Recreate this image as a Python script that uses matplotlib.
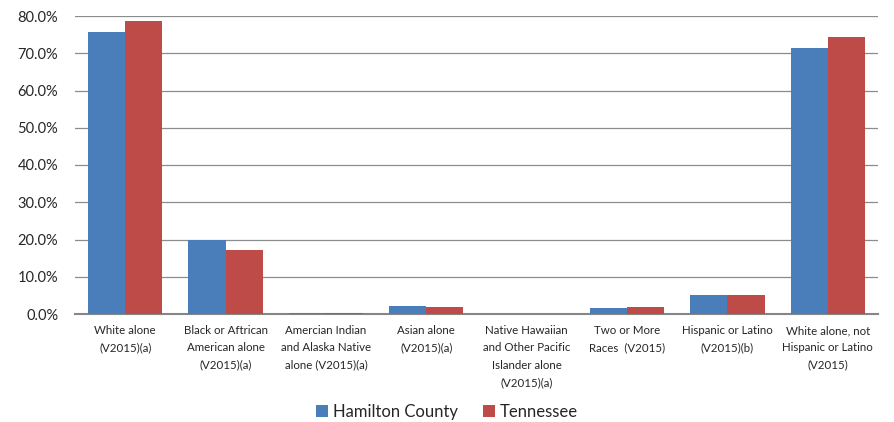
import matplotlib
matplotlib.use("Agg")
import matplotlib.pyplot as plt
import numpy as np
from matplotlib.ticker import FuncFormatter

categories = [
    "White alone\n(V2015)(a)",
    "Black or Aftrican\nAmerican alone\n(V2015)(a)",
    "Amercian Indian\nand Alaska Native\nalone (V2015)(a)",
    "Asian alone\n(V2015)(a)",
    "Native Hawaiian\nand Other Pacific\nIslander alone\n(V2015)(a)",
    "Two or More\nRaces  (V2015)",
    "Hispanic or Latino\n(V2015)(b)",
    "White alone, not\nHispanic or Latino\n(V2015)",
]
hamilton = [75.6, 19.9, 0.4, 2.2, 0.1, 1.6, 5.2, 71.4]
tennessee = [78.7, 17.2, 0.3, 1.8, 0.1, 1.8, 5.2, 74.4]
series_names = ["Hamilton County", "Tennessee"]
yticks = [0, 10, 20, 30, 40, 50, 60, 70, 80]

plt.rcParams['font.family'] = ['Lato', 'DejaVu Sans']

fig = plt.figure(figsize=(8.94, 4.22), dpi=100)
ax = fig.add_axes([75/894, 1-314/422, (878-75)/894, (314-16)/422])

x = np.arange(len(categories))
w = 0.37
ax.bar(x - w/2, hamilton, w, color="#4A7EBB", label=series_names[0], zorder=3)
ax.bar(x + w/2, tennessee, w, color="#BE4B48", label=series_names[1], zorder=3)

ax.set_xlim(-0.5, len(categories) - 0.5)
ax.set_ylim(0, 80)
ax.set_yticks(yticks)
ax.yaxis.set_major_formatter(FuncFormatter(lambda v, p: f"{v:.1f}%"))
ax.grid(axis="y", color="#8C8C8C", linewidth=0.9, zorder=0)
for s in ["left", "right", "top"]:
    ax.spines[s].set_visible(False)
ax.spines["bottom"].set_color("#868686")
ax.spines["bottom"].set_linewidth(1.5)
ax.spines["bottom"].set_zorder(2.5)
ax.tick_params(axis="y", length=0, labelsize=10.5, pad=12, labelcolor="#262626")
ax.tick_params(axis="x", length=0, pad=8)
ax.set_xticks(x)
ax.set_xticklabels(categories, fontsize=8.3, color="#262626", linespacing=1.7)

leg = fig.legend(loc="center", bbox_to_anchor=(0.5, 1-412/422), ncol=2, frameon=False,
                 fontsize=12, handlelength=0.7, handleheight=0.7, handletextpad=0.3,
                 columnspacing=1.5)
for t in leg.get_texts():
    t.set_color("#262626")

fig.savefig("out.png", dpi=100)
